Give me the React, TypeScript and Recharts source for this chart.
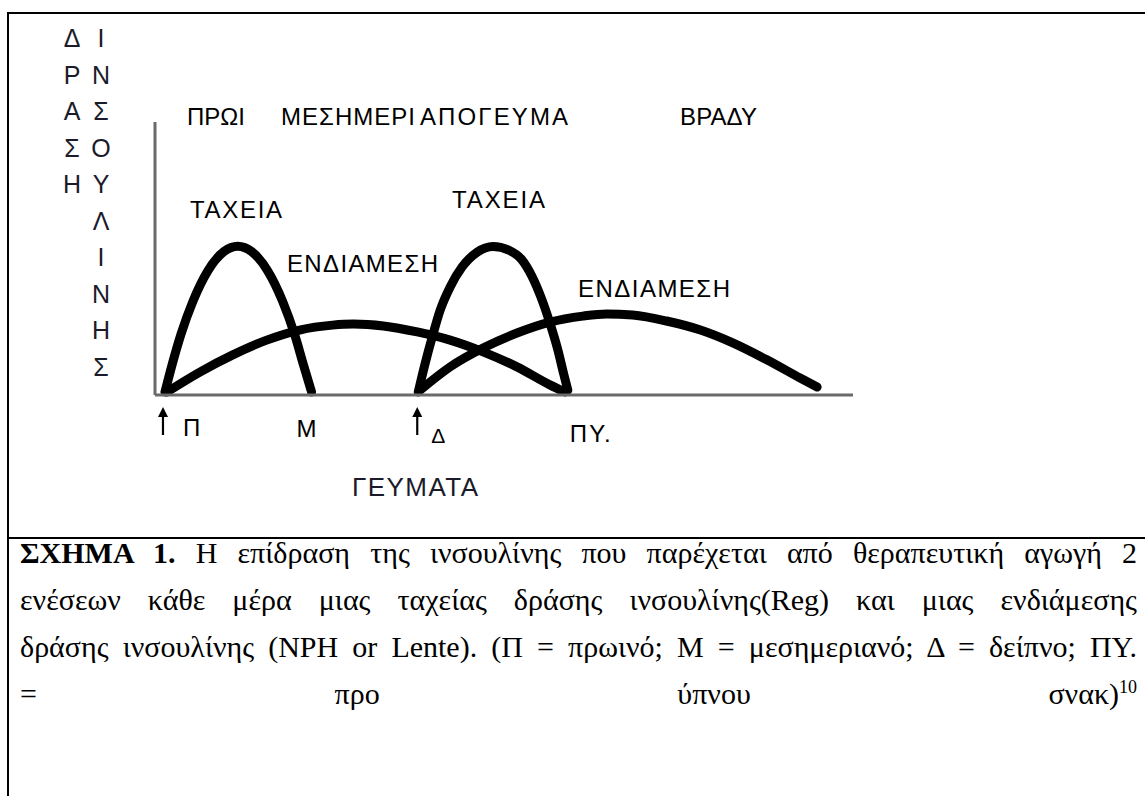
import React from 'react';
import { LineChart, Line, XAxis, YAxis, Customized } from 'recharts';

// Time runs along x in arbitrary units (0 = start of day axis), effect on y (0-100).
const rapidMorning = [
  { t: 1.0, v: 1.1 }, { t: 1.7, v: 10.9 }, { t: 2.6, v: 22.2 }, { t: 3.8, v: 34.3 },
  { t: 5.3, v: 45.5 }, { t: 6.9, v: 52.5 }, { t: 8.3, v: 54.5 }, { t: 9.7, v: 52.5 },
  { t: 11.3, v: 45.5 }, { t: 12.8, v: 34.3 }, { t: 14.0, v: 22.2 }, { t: 14.9, v: 10.9 },
  { t: 15.7, v: 1.1 },
];

const intermediateMorning = [
  { t: 1.2, v: 1.1 }, { t: 4.5, v: 8.4 }, { t: 7.8, v: 14.7 }, { t: 11.2, v: 20.1 },
  { t: 14.5, v: 23.8 }, { t: 17.8, v: 25.6 }, { t: 19.9, v: 26.0 }, { t: 22.9, v: 25.3 },
  { t: 26.3, v: 23.1 }, { t: 29.6, v: 20.1 }, { t: 32.9, v: 15.8 }, { t: 36.3, v: 10.3 },
  { t: 39.6, v: 3.7 }, { t: 41.1, v: 1.1 },
];

const rapidEvening = [
  { t: 26.4, v: 1.1 }, { t: 27.1, v: 11.7 }, { t: 27.8, v: 21.2 }, { t: 28.6, v: 31.1 },
  { t: 29.6, v: 39.6 }, { t: 30.8, v: 46.9 }, { t: 32.3, v: 52.3 }, { t: 33.9, v: 54.4 },
  { t: 35.5, v: 53.0 }, { t: 36.8, v: 49.5 }, { t: 37.8, v: 43.5 }, { t: 38.7, v: 35.9 },
  { t: 39.6, v: 26.4 }, { t: 40.4, v: 16.5 }, { t: 41.0, v: 7.5 }, { t: 41.4, v: 1.8 },
];

const intermediateEvening = [
  { t: 26.6, v: 1.8 }, { t: 29.6, v: 10.3 }, { t: 32.9, v: 17.2 }, { t: 36.3, v: 22.7 },
  { t: 39.6, v: 26.7 }, { t: 42.9, v: 28.9 }, { t: 45.3, v: 29.7 }, { t: 47.9, v: 29.3 },
  { t: 51.3, v: 27.1 }, { t: 54.7, v: 23.8 }, { t: 58.0, v: 19.0 }, { t: 61.4, v: 12.8 },
  { t: 64.7, v: 6.2 }, { t: 66.4, v: 2.9 },
];

// Meals along the time axis; injections are given at breakfast and dinner.
const mealTimes = [0.8, 15.8, 26.3, 41.4];
const mealLabels = ['Π', 'Μ', 'Δ', 'ΠΥ.'];
const mealInjection = [true, false, true, false];

const periodLabels = ['ΠΡΩΙ', 'ΜΕΣΗΜΕΡΙ', 'ΑΠΟΓΕΥΜΑ', 'ΒΡΑΔΥ'];
const curveLabels = ['ΤΑΧΕΙΑ', 'ΕΝΔΙΑΜΕΣΗ', 'ΤΑΧΕΙΑ', 'ΕΝΔΙΑΜΕΣΗ'];
const yTitleLeft = 'ΔΡΑΣΗ';
const yTitleRight = 'ΙΝΣΟΥΛΙΝΗΣ';
const xTitle = 'ΓΕΥΜΑΤΑ';

const captionTitle = 'ΣΧΗΜΑ 1.';
const captionLine1 = ' Η επίδραση της ινσουλίνης που παρέχεται από θεραπευτική αγωγή  2';
const captionLine2 = 'ενέσεων κάθε μέρα μιας ταχείας  δράσης  ινσουλίνης(Reg)  και μιας ενδιάμεσης';
const captionLine3 = 'δράσης ινσουλίνης (NPH or Lente). (Π = πρωινό; Μ = μεσημεριανό; Δ = δείπνο; ΠΥ.';
const captionLine4 = '= προ ύπνου σνακ)';
const captionRef = '10';

const SANS = '"Liberation Sans", Arial, "DejaVu Sans", sans-serif';
const SERIF = '"Liberation Serif", "Times New Roman", serif';
const AXIS_GREY = '#6a6a6a';

// label offsets from each meal tick
const tickDx = [20, -16, 14, 2];
const tickDy = [33, 34, 40, 39];

function MealTick(props: any) {
  const { x, index } = props;
  const i = index as number;
  const base = 395;
  const arrowTop = base + 12;
  const arrowBottom = base + 40;
  return (
    <g>
      {mealInjection[i] && (
        <g>
          <line x1={x} y1={arrowTop + 8} x2={x} y2={arrowBottom} stroke="#000" strokeWidth={2.2} />
          <path d={`M ${x - 5} ${arrowTop + 10} L ${x} ${arrowTop} L ${x + 5} ${arrowTop + 10} Z`} fill="#000" />
        </g>
      )}
      <text
        x={x + tickDx[i]}
        y={base + 8 + tickDy[i]}
        fontFamily={SANS}
        fontSize={i === 2 ? 21 : 24}
        letterSpacing={i === 3 ? 2 : 0}
        fill="#000"
      >
        {mealLabels[i]}
      </text>
    </g>
  );
}

function Annotations() {
  const periodX = [187, 281, 420, 680];
  const periodW = [58, 134, 148, 77];
  const curveX = [190, 287, 452, 578];
  const curveY = [218, 272, 208, 297];
  const curveW = [92, 151, 93, 152];
  return (
    <g fontFamily={SANS} fill="#000">
      {periodLabels.map((s, i) => (
        <text key={'p' + i} x={periodX[i]} y={125} fontSize={24} textLength={periodW[i]} lengthAdjust="spacing">{s}</text>
      ))}
      {curveLabels.map((s, i) => (
        <text key={'c' + i} x={curveX[i]} y={curveY[i]} fontSize={24} textLength={curveW[i]} lengthAdjust="spacing">{s}</text>
      ))}
      {yTitleLeft.split('').map((ch, i) => (
        <text key={'l' + i} x={72} y={47 + i * 36.5} fontSize={25} textAnchor="middle" fill="#1b1b2a" fontWeight={500}>{ch}</text>
      ))}
      {yTitleRight.split('').map((ch, i) => (
        <text key={'r' + i} x={101} y={47 + i * 36.5} fontSize={25} textAnchor="middle" fill="#1b1b2a" fontWeight={500}>{ch}</text>
      ))}
      <text x={352} y={496} fontSize={26} textLength={126} lengthAdjust="spacing" fill="#1b1b2a">{xTitle}</text>
    </g>
  );
}

const lineProps = {
  dataKey: 'v',
  type: 'monotoneX' as const,
  stroke: '#000',
  strokeWidth: 9,
  strokeLinecap: 'round' as const,
  strokeLinejoin: 'round' as const,
  dot: false,
  activeDot: false,
  isAnimationActive: false,
};

export default function App() {
  return (
    <div style={{ position: 'absolute', left: 0, top: 0, width: 1145, height: 796, background: '#fff', overflow: 'hidden' }}>
      <div style={{ position: 'absolute', left: 7, top: 12, width: 1138, height: 784, borderTop: '2px solid #000', borderLeft: '2px solid #000', boxSizing: 'border-box' }} />
      <div style={{ position: 'absolute', left: 7, top: 537, width: 1138, height: 2, background: '#000' }} />
      <div style={{ position: 'absolute', left: 0, top: 0 }}>
        <LineChart width={1145} height={540} margin={{ top: 122, right: 292, left: 0, bottom: 0 }}>
          <XAxis
            type="number"
            dataKey="t"
            domain={[0, 70]}
            height={145}
            ticks={mealTimes}
            interval={0}
            tickLine={false}
            tick={<MealTick />}
            axisLine={{ stroke: AXIS_GREY, strokeWidth: 3 }}
          />
          <YAxis
            type="number"
            domain={[0, 100]}
            width={155}
            tick={false}
            tickLine={false}
            axisLine={{ stroke: AXIS_GREY, strokeWidth: 3 }}
          />
          <Line {...lineProps} data={rapidMorning} name="ΤΑΧΕΙΑ (πρωί)" />
          <Line {...lineProps} data={intermediateMorning} name="ΕΝΔΙΑΜΕΣΗ (πρωί)" />
          <Line {...lineProps} data={rapidEvening} name="ΤΑΧΕΙΑ (δείπνο)" />
          <Line {...lineProps} data={intermediateEvening} name="ΕΝΔΙΑΜΕΣΗ (δείπνο)" />
          <Customized component={Annotations} />
        </LineChart>
      </div>
      <div style={{ position: 'absolute', left: 20, top: 529, width: 1117, fontFamily: SERIF, fontSize: 30, lineHeight: '47px', color: '#000' }}>
        <div style={{ textAlign: 'justify', textAlignLast: 'justify', whiteSpace: 'nowrap' }}>
          <b>{captionTitle}</b>{captionLine1}
        </div>
        <div style={{ textAlign: 'justify', textAlignLast: 'justify', whiteSpace: 'nowrap' }}>{captionLine2}</div>
        <div style={{ textAlign: 'justify', textAlignLast: 'justify', whiteSpace: 'nowrap' }}>{captionLine3}</div>
        <div style={{ textAlign: 'justify', textAlignLast: 'justify', whiteSpace: 'nowrap' }}>
          {captionLine4}
          <sup style={{ fontSize: 18, lineHeight: 0 }}>{captionRef}</sup>
        </div>
      </div>
    </div>
  );
}
